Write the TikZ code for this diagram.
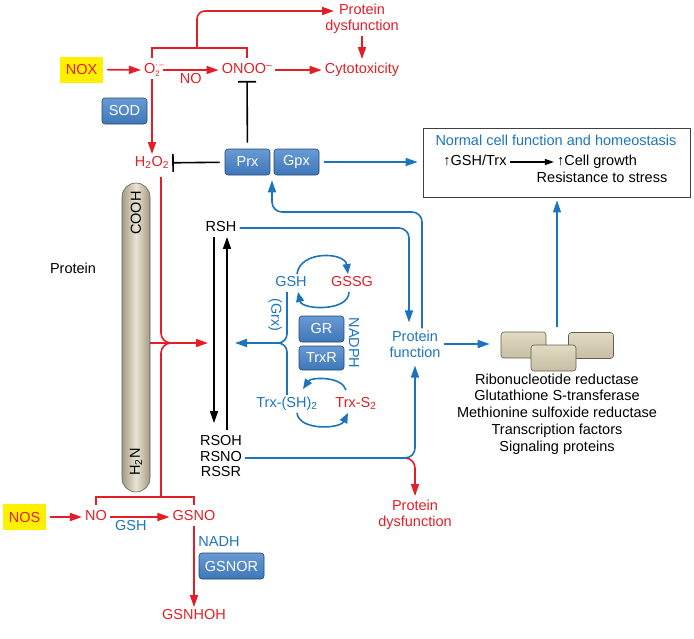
\documentclass[tikz,border=0pt]{standalone}
\usepackage{fontspec}
\setmainfont{Liberation Sans}
\usetikzlibrary{arrows.meta,calc}

\definecolor{nred}{HTML}{E41E26}
\definecolor{nblue}{HTML}{1C75BC}
\definecolor{eblue}{HTML}{4381C9}
\definecolor{ntan}{HTML}{D8CFB0}
\definecolor{nyellow}{HTML}{FFF000}

\newcommand{\radsup}{\rlap{\raisebox{6pt}{\fontsize{8}{8}\selectfont ·\,–}}\raisebox{-3pt}{\fontsize{8}{8}\selectfont 2}}

\tikzset{
  lbl/.style={inner xsep=3pt, inner ysep=2pt, text height=10.5pt, text depth=3pt},
  multi/.style={inner xsep=3pt, inner ysep=2pt, align=center},
  enzyme/.style={draw=eblue!55!black, line width=0.6pt, rounded corners=3pt, top color=eblue!80!white, bottom color=eblue!92!black, text=white, minimum width=45pt, minimum height=26pt, inner sep=0pt},
  protbox/.style={draw=ntan!45!black, line width=0.6pt, rounded corners=3pt, top color=ntan!75!white, bottom color=ntan!92!black, minimum width=45pt, minimum height=26pt, inner sep=0pt},
  pill/.style={draw=ntan!45!black, line width=0.6pt, rounded corners=14pt, minimum width=28pt, minimum height=309pt, inner sep=0pt, left color=ntan!75!black, right color=ntan!75!black, middle color=ntan!55!white},
  source/.style={fill=nyellow, text=nred, minimum width=43pt, minimum height=26pt, inner sep=0pt},
  rline/.style={draw=nred, line width=1.6pt},
  bline/.style={draw=nblue, line width=1.6pt},
  kline/.style={draw=black, line width=1.6pt},
  arr/.style={-{Triangle[length=12pt,width=8pt]}},
  sarr/.style={-{Triangle[length=10pt,width=8pt]}},
  inhib/.style={-{Bar[width=18pt,line width=1.6pt]}},
}

\begin{document}
\begin{tikzpicture}[x=1pt,y=-1pt, font=\fontsize{14.5}{16}\selectfont]
\useasboundingbox (0,0) rectangle (694,638);

% protein backbone
\node[pill] (pill) at (136,337.5) {};
\node[rotate=90] (cooh) at (136,213) {COOH};
\node[rotate=90] (h2n) at (136,462) {H\textsubscript{2}N};
\node (protein) at (73,268) {Protein};

% superoxide
\node[source] (nox) at (81.5,69.5) {NOX};
\node[lbl, text=nred] (o2) at (152,70) {O\radsup};
\node[lbl, text=nred] (onoo) at (247,70) {ONOO\textsuperscript{–}};
\node[lbl, text=nred] (cyto) at (362,70) {Cytotoxicity};
\node[multi, text=nred] (topdys) at (362,19) {Protein\\dysfunction};
\node[enzyme] (sod) at (124.5,111) {SOD};
\node[lbl, text=nred] (h2o2) at (152,163) {H\textsubscript{2}O\textsubscript{2}};
\node[enzyme] (prx) at (247.5,162) {Prx};
\node[enzyme] (gpx) at (296.5,162) {Gpx};

% homeostasis box
\node[draw=black!75, line width=0.8pt, minimum width=267pt, minimum height=69pt, inner sep=0pt] (homeo) at (556.5,162.5) {};
\node[lbl, text=nblue] (homeotitle) at (556,142) {Normal cell function and homeostasis};
\node[lbl] (gshtrx) at (475,162) {↑GSH/Trx};
\node[lbl] (growth) at (597,162) {↑Cell growth};
\node[lbl] (stress) at (602,179) {Resistance to stress};

% thiols
\node[lbl] (rsh) at (221,228) {RSH};
\node[lbl] (rsoh) at (221,442) {RSOH};
\node[lbl] (rsno) at (221,458) {RSNO};
\node[lbl] (rssr) at (221,473) {RSSR};

\node[lbl, text=nblue] (gsh) at (291,283) {GSH};
\node[lbl, text=nred] (gssg) at (352,283) {GSSG};
\node[enzyme] (gr) at (321.5,329) {GR};
\node[enzyme, minimum height=24pt] (trxr) at (321.5,358) {TrxR};
\node[text=nblue, rotate=-90] (grx) at (275,315) {(Grx)};
\node[text=nblue, rotate=-90] (nadph) at (354,343) {NADPH};
\node[lbl, text=nblue] (trxsh) at (287,404) {Trx-(SH)\textsubscript{2}};
\node[lbl, text=nred] (trxs) at (356,404) {Trx-S\textsubscript{2}};

\node[multi, text=nblue] (pfun) at (415,344) {Protein\\function};
\node[protbox] (prot1) at (523.5,345) {};
\node[protbox] (prot2) at (591,345.5) {};
\node[protbox] (prot3) at (553.5,358) {};
\node[multi, font=\fontsize{14.5}{16.8}\selectfont] (targets) at (557,414) {Ribonucleotide reductase\\Glutathione S-transferase\\Methionine sulfoxide reductase\\Transcription factors\\Signaling proteins};
\node[multi, text=nred] (botdys) at (415,515) {Protein\\dysfunction};

% nitric oxide
\node[source] (nos) at (24.5,517) {NOS};
\node[lbl, text=nred] (no) at (96,517) {NO};
\node[lbl, text=nred] (gsno) at (194,517) {GSNO};
\node[lbl, text=nblue] (nadh) at (219,543) {NADH};
\node[enzyme, minimum width=65pt] (gsnor) at (231.5,566) {GSNOR};
\node[lbl, text=nred] (gsnhoh) at (194,616) {GSNHOH};

\coordinate (brtop) at (197,48);
\coordinate (brbot) at (161,497);
\coordinate (pdin) at (334,11);
\coordinate (rj) at (161,343);
\coordinate (rin) at (208,343);
\coordinate (bj) at (287,343);
\coordinate (lin) at (235,343);
\coordinate (pxturn) at (272,212);
\coordinate (protop) at (557,327);

% superoxide branch
\draw[rline, arr, shorten <=4pt] (nox) -- (o2);
\draw[rline, arr] (o2) -- node[lbl, below=0pt, text=nred] (nolbl) {NO} (onoo);
\draw[rline, arr] (onoo) -- (cyto);
\draw[rline] ([yshift=3pt]o2.north) |- (brtop) -| ([yshift=3pt]onoo.north);
\draw[rline, arr, rounded corners=8pt] (brtop) |- (pdin);
\draw[rline, arr, shorten >=2pt] (topdys) -- (cyto);
\draw[rline, arr] (o2) -- (h2o2);

% peroxidases
\draw[kline, inhib, shorten <=5pt] (prx) -- (h2o2);
\draw[kline, inhib, shorten <=6pt, shorten >=2pt] (prx) -- (onoo);
\draw[bline, arr, shorten <=5pt, shorten >=5pt] (gpx.east) -- (gpx.east -| homeo.west);
\draw[kline, -{Triangle[length=9pt,width=6pt]}, line width=1.2pt] (gshtrx) -- (growth);

% oxidants reach the thiols
\draw[rline, rounded corners=10pt] (h2o2.south -| rj) ++(0,5) -- (rj) -- ++(14,0);
\draw[rline, rounded corners=10pt] (brbot) -- (rj) -- ++(14,0);
\draw[rline, arr] (pill.east |- rj) -- (rin);
\draw[rline] ([yshift=3pt]no.north) |- (brbot) -| ([yshift=3pt]gsno.north);

% thiol switch
\draw[kline, arr, shorten >=10pt] ([xshift=-7pt]rsh.south) -- ([xshift=-7pt]rsoh.north);
\draw[kline, arr, shorten <=3pt] ([xshift=6pt]rsoh.north) -- ([xshift=6pt]rsh.south);

% GSH and Trx cycles
\draw[bline, sarr] ([xshift=6pt]gsh.north) .. controls +(3,-24) and +(-3,-22) .. ([xshift=-4pt]gssg.north);
\draw[bline, sarr] ([xshift=-3pt]gssg.south) .. controls +(0,20) and +(4,18) .. ([xshift=7pt]gsh.south);
\draw[bline, sarr] ([xshift=-10pt,yshift=5pt]trxs.north) .. controls +(-4,-14) and +(8,-12) .. ([xshift=16pt,yshift=6pt]trxsh.north);
\draw[bline, sarr] ([xshift=10pt]trxsh.south) .. controls +(2,18) and +(-8,16) .. ([xshift=-8pt]trxs.south);
\draw[bline, rounded corners=9pt] ([xshift=-4pt]gsh.south) |- ([xshift=-12pt]bj);
\draw[bline, rounded corners=9pt] (trxsh.north) |- ([xshift=-12pt]bj);
\draw[bline, arr] ([xshift=-9pt]bj) -- (lin);

% protein function
\draw[bline, arr, rounded corners=10pt, shorten >=6pt] (rsh) -| ([xshift=-6pt]pfun.north);
\draw[bline, arr, rounded corners=10pt, shorten >=5pt] ([xshift=7pt]pfun.north) |- (pxturn) -- (pxturn |- prx.south);
\draw[bline, arr, shorten >=11pt] (pfun.east) -- (pfun.east -| prot1.west);
\draw[rline, arr, rounded corners=10pt, shorten >=2pt] ($(rsno -| pfun.south)+(-12,0)$) -- (rsno -| pfun.south) -- (botdys.north);
\draw[bline, arr, rounded corners=10pt, shorten >=6pt] (rsno) -| (pfun.south);
\draw[bline, arr, shorten >=3pt] (protop) -- (protop |- homeo.south);

% nitric oxide branch
\draw[rline, arr, shorten <=4pt] (nos) -- (no);
\draw[rline, arr] (no) -- node[lbl, below=0pt, pos=0.35, text=nblue] (gshlbl) {GSH} (gsno);
\draw[rline, arr] (gsno) -- (gsnhoh);
\end{tikzpicture}
\end{document}
